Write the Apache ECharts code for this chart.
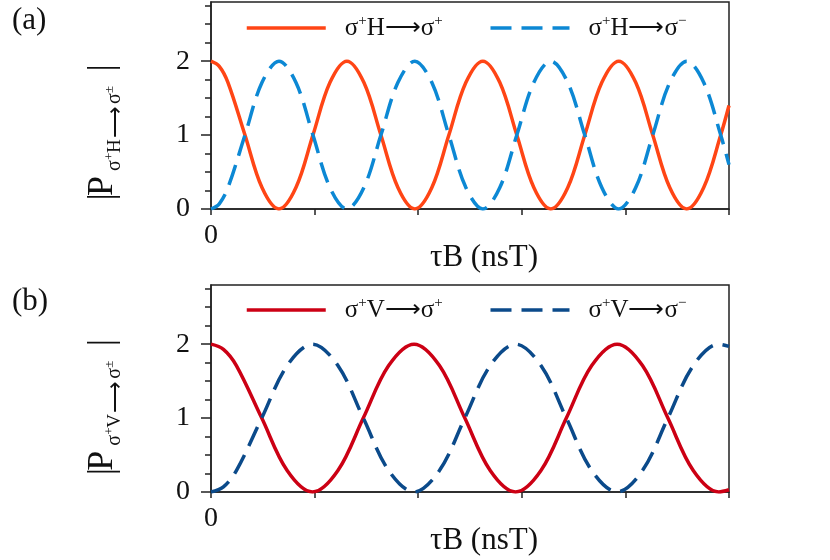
<!DOCTYPE html>
<html>
<head>
<meta charset="utf-8">
<script src="https://cdn.jsdelivr.net/npm/echarts@6/dist/echarts.min.js"></script>
<style>
html, body { margin: 0; padding: 0; background: #fff; }
#main { width: 830px; height: 560px; }
</style>
</head>
<body>
<div id="main"></div>
<script>
// x in tick units (5 ticks across, only "0" labelled)
// panel (a)  σ+H
var tA    = [0, 0.08, 0.164, 0.328, 0.492, 0.656, 0.82, 0.984, 1.148, 1.312, 1.476, 1.64, 1.804, 1.968, 2.132, 2.296, 2.46,
             2.624, 2.788, 2.952, 3.116, 3.28, 3.444, 3.608, 3.772, 3.936, 4.1, 4.264, 4.428, 4.592, 4.756, 4.92, 5];
var redA  = [2, 1.93, 1.71, 1, 0.29, 0, 0.29, 1, 1.71, 2, 1.71, 1, 0.29, 0, 0.29, 1, 1.71,
             2, 1.71, 1, 0.29, 0, 0.29, 1, 1.71, 2, 1.71, 1, 0.29, 0, 0.29, 1, 1.4];
var blueA = [0, 0.07, 0.29, 1, 1.71, 2, 1.71, 1, 0.29, 0, 0.29, 1, 1.71, 2, 1.71, 1, 0.29,
             0, 0.29, 1, 1.71, 2, 1.71, 1, 0.29, 0, 0.29, 1, 1.71, 2, 1.71, 1, 0.6];
// panel (b)  σ+V
var tB    = [0, 0.12, 0.245, 0.49, 0.735, 0.98, 1.225, 1.47, 1.715, 1.96, 2.205, 2.45, 2.695, 2.94, 3.185, 3.43, 3.675,
             3.92, 4.165, 4.41, 4.655, 4.9, 5];
var redB  = [2, 1.93, 1.71, 1, 0.29, 0, 0.29, 1, 1.71, 2, 1.71, 1, 0.29, 0, 0.29, 1, 1.71, 2, 1.71, 1, 0.29, 0, 0.03];
var blueB = [0, 0.07, 0.29, 1, 1.71, 2, 1.71, 1, 0.29, 0, 0.29, 1, 1.71, 2, 1.71, 1, 0.29, 0, 0.29, 1, 1.71, 2, 1.97];

var yTicks = [0, 1, 2];
var yMinorTicks = [0.25, 0.5, 0.75, 1.25, 1.5, 1.75, 2.25, 2.5, 2.75];
var xTitle = 'τB (nsT)';
var namesA = ['σ+H⟶σ+', 'σ+H⟶σ−'];
var namesB = ['σ+V⟶σ+', 'σ+V⟶σ−'];
var colorsA = ['#ff4515', '#0c88d4'];
var colorsB = ['#cc0014', '#0b4a8a'];

var FONT = '"Liberation Serif", "Times New Roman", serif';
var INK = '#111';

function pairs(xs, ys) {
    var out = [];
    for (var i = 0; i < xs.length; i++) out.push([xs[i], ys[i]]);
    return out;
}

// superscript the +/− signs of the legend names
function supText(name) {
    return name.replace(/([+−±])/g, '{s|$1}');
}

function makeLegend(names, top) {
    return {
        data: names, left: 245, top: top, padding: 0,
        itemWidth: 79, itemHeight: 14, itemGap: 34,
        formatter: supText,
        lineStyle: { width: 3.5 },
        // hide the round marker that line series put in the legend icon
        itemStyle: { opacity: 0, color: 'rgba(0,0,0,0)', borderWidth: 0 },
        textStyle: {
            fontFamily: FONT, fontSize: 25, color: INK, lineHeight: 28,
            padding: [0, 0, 0, 14], width: 110,
            rich: { s: { fontFamily: FONT, fontSize: 15, lineHeight: 14, verticalAlign: 'top', color: INK } }
        }
    };
}

var axisLineStyle = { color: '#222', width: 1.5 };

function makeX(i) {
    return {
        type: 'value', gridIndex: i, min: 0, max: 5, interval: 1,
        axisLine: { show: true, lineStyle: axisLineStyle },
        axisTick: { show: true, length: 6, lineStyle: axisLineStyle },
        axisLabel: {
            margin: 13, fontSize: 28, fontFamily: FONT, color: INK,
            formatter: function (v) { return v === 0 ? '0' : ''; }
        },
        splitLine: { show: false },
        name: xTitle, nameLocation: 'middle', nameGap: 33, nameMoveOverlap: false,
        nameTextStyle: { fontSize: 31, fontFamily: FONT, color: INK, padding: [0, 0, 0, 28] }
    };
}

function makeY(i) {
    return {
        type: 'value', gridIndex: i, position: 'left', offset: 0,
        min: 0, max: 2.8, interval: 1,
        axisLine: { show: true, lineStyle: axisLineStyle },
        axisTick: { show: true, length: 10, customValues: yTicks, lineStyle: axisLineStyle },
        axisLabel: {
            customValues: yTicks, margin: 21, fontSize: 28, fontFamily: FONT, color: INK,
            formatter: function (v) { return Number.isInteger(v) ? String(v) : ''; }
        },
        splitLine: { show: false }
    };
}

// second left axis on the same grid that only carries the short quarter ticks
function makeYMinor(i) {
    return {
        type: 'value', gridIndex: i, position: 'left', offset: 0,
        min: 0, max: 2.8, interval: 0.25,
        axisLine: { show: false },
        axisTick: { show: true, length: 6, customValues: yMinorTicks, lineStyle: axisLineStyle },
        axisLabel: { show: false },
        splitLine: { show: false }
    };
}

function makeLine(name, xs, ys, color, dashed, i) {
    return {
        name: name, type: 'line', xAxisIndex: i, yAxisIndex: i * 2,
        data: pairs(xs, ys), smooth: 0.35, symbol: 'none',
        lineStyle: { color: color, width: 3.5, type: dashed ? [21, 10] : 'solid' },
        itemStyle: { color: color },
        animation: false
    };
}

// rotated |P_{σ+X⟶σ±}| label, laid out in local (unrotated) coordinates
function yLabel(x0, y0, mid) {
    function t(x, y, s, size) {
        return {
            type: 'text', x: x, y: y,
            style: {
                text: s, fontSize: size, fontFamily: FONT, fill: INK,
                textAlign: 'left', textVerticalAlign: 'middle', align: 'left', verticalAlign: 'middle'
            }
        };
    }
    return {
        type: 'group', x: x0, y: y0, rotation: Math.PI / 2,
        children: [
            t(-3.6, -10, '|', 36),
            t(1, -10, 'P', 36),
            t(26, 2, 'σ', 20),
            t(37, -3, '+', 13),
            t(44, 2, mid, 19),
            t(59, 3, '⟶', 22),
            t(93, 2, 'σ', 20),
            t(104, -3, '±', 13),
            t(125.4, -10, '|', 36)
        ]
    };
}

var option = {
    backgroundColor: '#fff',
    animation: false,
    grid: [
        { left: 211, top: 2, width: 518, height: 207, show: true, borderColor: '#222', borderWidth: 1.5, outerBoundsMode: 'none' },
        { left: 211, top: 285, width: 518, height: 207, show: true, borderColor: '#222', borderWidth: 1.5, outerBoundsMode: 'none' }
    ],
    legend: [makeLegend(namesA, 14), makeLegend(namesB, 296)],
    xAxis: [makeX(0), makeX(1)],
    yAxis: [makeY(0), makeYMinor(0), makeY(1), makeYMinor(1)],
    series: [
        makeLine(namesA[0], tA, redA, colorsA[0], false, 0),
        makeLine(namesA[1], tA, blueA, colorsA[1], true, 0),
        makeLine(namesB[0], tB, redB, colorsB[0], false, 1),
        makeLine(namesB[1], tB, blueB, colorsB[1], true, 1)
    ],
    graphic: [
        { type: 'text', left: 12, top: 5, style: { text: '(a)', fontSize: 31, fontFamily: FONT, fill: INK } },
        { type: 'text', left: 12, top: 286, style: { text: '(b)', fontSize: 31, fontFamily: FONT, fill: INK } },
        yLabel(113, 197, 'H'),
        yLabel(113, 471.7, 'V')
    ]
};

var chart = echarts.init(document.getElementById('main'));
chart.setOption(option);
</script>
</body>
</html>
